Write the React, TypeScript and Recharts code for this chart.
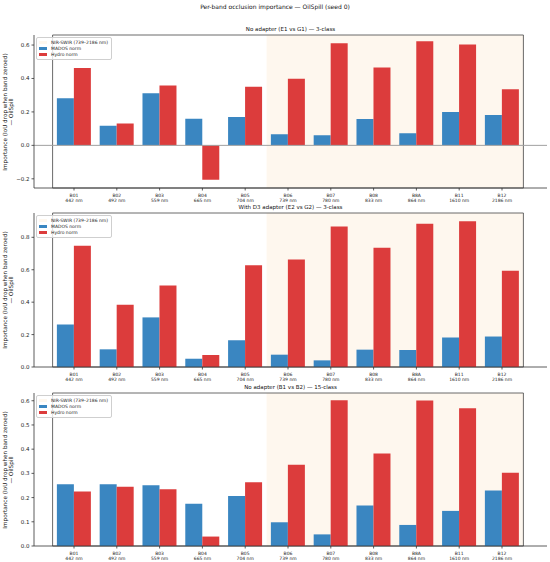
import { BarChart, Bar, XAxis, YAxis, ReferenceArea, ReferenceLine } from 'recharts';

const BANDS = ['B01', 'B02', 'B03', 'B04', 'B05', 'B06', 'B07', 'B08', 'B8A', 'B11', 'B12'];
const WAVELENGTHS = ['442 nm', '492 nm', '559 nm', '665 nm', '704 nm', '739 nm', '780 nm', '833 nm', '864 nm', '1610 nm', '2186 nm'];

const MADOS_E1G1 = [0.282, 0.117, 0.312, 0.159, 0.169, 0.066, 0.06, 0.157, 0.073, 0.199, 0.181];
const HYDRO_E1G1 = [0.462, 0.13, 0.358, -0.205, 0.35, 0.398, 0.611, 0.466, 0.623, 0.603, 0.336];

const MADOS_E2G2 = [0.262, 0.109, 0.306, 0.051, 0.165, 0.076, 0.041, 0.107, 0.105, 0.182, 0.188];
const HYDRO_E2G2 = [0.748, 0.384, 0.502, 0.074, 0.628, 0.663, 0.866, 0.736, 0.884, 0.899, 0.593];

const MADOS_B1B2 = [0.255, 0.255, 0.251, 0.175, 0.207, 0.098, 0.048, 0.167, 0.087, 0.145, 0.229];
const HYDRO_B1B2 = [0.225, 0.245, 0.234, 0.039, 0.263, 0.336, 0.602, 0.382, 0.601, 0.569, 0.303];

const TICKS_E1G1 = [-0.2, 0, 0.2, 0.4, 0.6];
const TICKS_E2G2 = [0, 0.2, 0.4, 0.6, 0.8];
const TICKS_B1B2 = [0, 0.1, 0.2, 0.3, 0.4, 0.5, 0.6];

const SUPTITLE = 'Per-band occlusion importance — OilSpill (seed 0)';
const LEGEND_LABELS = ['NIR-SWIR (739–2186 nm)', 'MADOS norm', 'Hydro norm'];
const Y_LABEL = ['Importance (IoU drop when band zeroed)', '— OilSpill'];

const BLUE = '#3a86c1';
const RED = '#dc3c3c';
const SHADE = '#fef7ee';
const FONT = 'DejaVu Sans, sans-serif';

const fmt = (v: number) => (v < 0 ? '\u2212' : '') + Math.abs(v).toFixed(1);

const BandTick = (props: any) => {
  const { x, y, payload, index } = props;
  return (
    <text x={x} y={y} textAnchor="middle" fontSize={4.5} fill="#222" fontFamily={FONT}>
      <tspan x={x} dy={4}>{payload.value}</tspan>
      <tspan x={x} dy={5}>{WAVELENGTHS[index]}</tspan>
    </text>
  );
};

interface PanelProps {
  title: string;
  mados: number[];
  hydro: number[];
  domain: [number, number];
  ticks: number[];
  top: number;
  height: number;
  marginTop: number;
  marginBottom: number;
  zeroLine?: boolean;
}

function Panel({ title, mados, hydro, domain, ticks, top, height, marginTop, marginBottom, zeroLine }: PanelProps) {
  const data = BANDS.map((b, i) => ({ band: b, mados: mados[i], hydro: hydro[i] }));
  const plotTop = top + marginTop;
  const plotBottom = top + height - marginBottom - 15;
  return (
    <>
      <div
        style={{
          position: 'absolute',
          left: 290.5,
          top: plotTop - 6,
          transform: 'translate(-50%, -50%)',
          fontSize: 5.5,
          whiteSpace: 'nowrap',
          color: '#111',
        }}
      >
        {title}
      </div>
      <div
        style={{
          position: 'absolute',
          left: 9,
          top: (plotTop + plotBottom) / 2,
          transform: 'translate(-50%, -50%) rotate(-90deg)',
          fontSize: 5.7,
          lineHeight: '5.6px',
          whiteSpace: 'nowrap',
          textAlign: 'center',
          color: '#111',
        }}
      >
        {Y_LABEL[0]}
        <br />
        {Y_LABEL[1]}
      </div>
      <div style={{ position: 'absolute', left: 0, top }}>
        <BarChart
          width={550}
          height={height}
          data={data}
          margin={{ top: marginTop, right: 3, bottom: marginBottom, left: 14 }}
          barCategoryGap="10%"
          barGap={0}
        >
          <XAxis
            dataKey="band"
            height={15}
            padding={{ left: 18.6, right: 23.6 }}
            tick={<BandTick />}
            tickSize={2.5}
            interval={0}
            stroke="#333"
            strokeWidth={0.8}
          />
          <YAxis
            domain={domain}
            ticks={ticks}
            allowDataOverflow
            width={20}
            tickSize={2.5}
            tickFormatter={fmt}
            tick={{ fontSize: 5.5, fill: '#222', fontFamily: FONT }}
            stroke="#333"
            strokeWidth={0.8}
          />
          <ReferenceArea x1="B06" x2="B12" fill={SHADE} fillOpacity={1} stroke="none" ifOverflow="visible" />
          {zeroLine && <ReferenceLine y={0} stroke="#a0a0a0" strokeWidth={1} />}
          <Bar dataKey="mados" fill={BLUE} isAnimationActive={false} />
          <Bar dataKey="hydro" fill={RED} isAnimationActive={false} />
          <ReferenceArea
            y1={domain[0]}
            y2={domain[1]}
            fill="none"
            fillOpacity={0}
            stroke="#444"
            strokeWidth={0.8}
            ifOverflow="visible"
          />
        </BarChart>
      </div>
      <div
        style={{
          position: 'absolute',
          left: 36,
          top: plotTop + 2,
          border: '0.6px solid #cfcfcf',
          borderRadius: 2,
          background: 'rgba(255,255,255,0.8)',
          padding: '1.5px 3px 1.5px 2px',
          fontSize: 4.5,
          lineHeight: '6px',
          color: '#222',
        }}
      >
        {LEGEND_LABELS.map((l, i) => (
          <div key={l} style={{ display: 'flex', alignItems: 'center', whiteSpace: 'nowrap' }}>
            <span
              style={{
                display: 'inline-block',
                width: 8,
                height: 3,
                marginRight: 4,
                background: i === 0 ? SHADE : i === 1 ? BLUE : RED,
              }}
            />
            {l}
          </div>
        ))}
      </div>
    </>
  );
}

export default function App() {
  return (
    <div
      style={{
        position: 'absolute',
        left: 0,
        top: 0,
        width: 550,
        height: 562,
        background: '#fff',
        fontFamily: FONT,
        overflow: 'hidden',
      }}
    >
      <div
        style={{
          position: 'absolute',
          left: 275,
          top: 6,
          transform: 'translate(-50%, -50%)',
          fontSize: 6,
          whiteSpace: 'nowrap',
          color: '#111',
        }}
      >
        {SUPTITLE}
      </div>
      <Panel
        title="No adapter (E1 vs G1) — 3-class"
        mados={MADOS_E1G1}
        hydro={HYDRO_E1G1}
        domain={[-0.255, 0.66]}
        ticks={TICKS_E1G1}
        top={0}
        height={205}
        marginTop={35}
        marginBottom={2}
        zeroLine
      />
      <Panel
        title="With D3 adapter (E2 vs G2) — 3-class"
        mados={MADOS_E2G2}
        hydro={HYDRO_E2G2}
        domain={[0, 0.95]}
        ticks={TICKS_E2G2}
        top={180}
        height={205}
        marginTop={33}
        marginBottom={3}
      />
      <Panel
        title="No adapter (B1 vs B2) — 15-class"
        mados={MADOS_B1B2}
        hydro={HYDRO_B1B2}
        domain={[0, 0.632]}
        ticks={TICKS_B1B2}
        top={360}
        height={202}
        marginTop={33}
        marginBottom={1}
      />
    </div>
  );
}
